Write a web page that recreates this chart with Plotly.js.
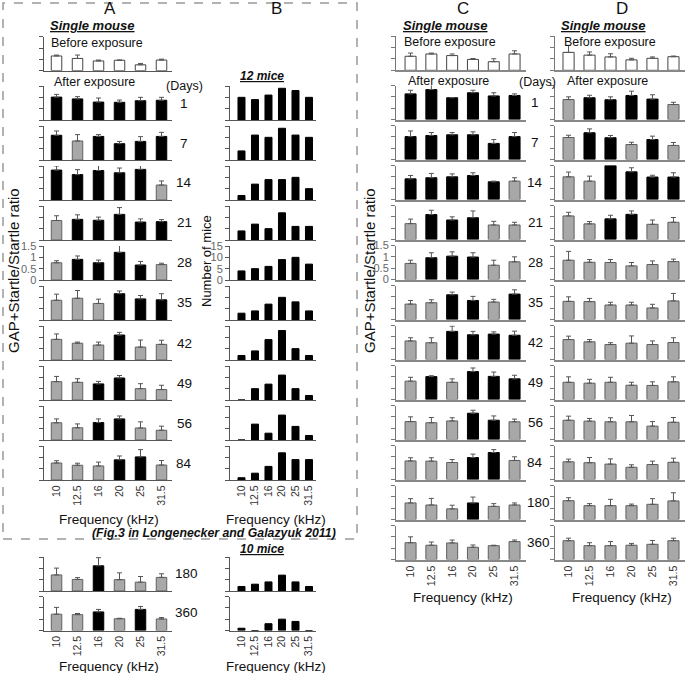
<!DOCTYPE html>
<html><head><meta charset="utf-8">
<script src="https://cdn.plot.ly/plotly-3.0.1.min.js"></script>
<style>html,body{margin:0;padding:0;background:#fff}#chart{width:685px;height:673px}</style>
</head><body><div id="chart"></div>
<script>
const freqs = ['10','12.5','16','20','25','31.5'];
const daysMain = ['1','7','14','21','28','35','42','49','56','84'];
const daysLate = ['180','360'];

// Column A (single mouse): bar means, error-bar tips, shade codes (W white, B black, G gray)
const aBeforeMean = [0.65,0.54,0.43,0.46,0.26,0.47];
const aBeforeTop  = [0.69,0.69,0.47,0.47,0.32,0.51];
const aMean = [
  [1.01,0.93,0.79,0.78,0.85,0.87],
  [1.09,0.84,1.04,0.72,0.82,1.04],
  [1.32,1.12,1.30,1.20,1.35,0.66],
  [0.86,0.91,0.87,1.13,0.79,0.81],
  [0.76,0.91,0.76,1.22,0.66,0.68],
  [0.87,0.96,0.73,1.16,0.93,0.89],
  [0.91,0.74,0.66,1.10,0.57,0.69],
  [0.81,0.78,0.71,0.97,0.50,0.46],
  [0.76,0.54,0.77,0.93,0.53,0.43],
  [0.75,0.65,0.62,0.89,1.02,0.66],
  [0.71,0.51,1.11,0.50,0.39,0.60],
  [0.72,0.70,0.82,0.52,0.93,0.51]
];
const aTop = [
  [1.13,1.03,0.97,0.88,1.00,1.00],
  [1.28,1.12,1.12,0.82,1.03,1.22],
  [1.50,1.34,1.62,1.41,1.62,0.84],
  [1.07,1.11,1.01,1.43,0.93,0.90],
  [0.85,1.06,0.88,1.53,0.82,0.74],
  [1.14,1.30,0.92,1.28,1.08,1.16],
  [1.15,0.79,0.79,1.22,0.88,0.87],
  [1.04,0.94,0.82,1.08,0.72,0.65],
  [0.93,0.71,0.93,1.06,0.80,0.61],
  [0.85,0.74,0.79,1.06,1.34,0.86],
  [1.01,0.59,1.47,0.80,0.64,0.76],
  [1.02,0.75,0.93,0.54,1.06,0.57]
];
const aShade = ['BBBBBB','BGBBBB','BBBBBG','GBBBBB','GBBBBG','GGGBBB','GGGBGG','GGBBGG','GGBBGG','GGGBBG','GGBGGG','GGBGBG'];

// Column B: number of mice (12 mice, days 1-84) and (10 mice, days 180, 360)
const bCount12 = [
  [10,9,11,14,13,10],
  [4,11,10,14,11,10],
  [2,7,9,9,10,5],
  [4,7,5,12,6,6],
  [4,5,6,9,10,7],
  [3,4,7,10,8,4],
  [2,4,9,13,5,2],
  [0,5,7,11,5,2],
  [0,7,3,11,6,2],
  [1,3,6,12,9,9]
];
const bCount10 = [
  [2,3,4,7,4,2],
  [1,0,3,5,4,0]
];

// Column C (single mouse)
const cBeforeMean = [0.62,0.72,0.65,0.48,0.38,0.72];
const cBeforeTop  = [0.76,0.76,0.72,0.52,0.51,0.86];
const cMean = [
  [1.13,1.32,0.96,1.18,1.04,1.06],
  [1.01,1.06,1.09,1.09,0.71,1.01],
  [0.91,0.96,1.00,1.06,0.78,0.81],
  [0.70,1.10,0.86,0.96,0.64,0.64],
  [0.71,0.96,1.03,0.99,0.63,0.78],
  [0.68,0.74,1.09,0.84,0.77,1.12],
  [0.82,0.74,1.24,1.09,1.12,1.07],
  [0.81,1.01,0.76,1.23,1.02,0.91],
  [0.79,0.74,0.82,1.16,0.85,0.78],
  [0.82,0.81,0.75,0.97,1.19,0.84],
  [0.73,0.64,0.47,0.73,0.58,0.64],
  [0.74,0.63,0.73,0.54,0.61,0.79]
];
const cTop = [
  [1.29,1.59,0.97,1.29,1.18,1.13],
  [1.26,1.19,1.19,1.22,0.88,1.19],
  [1.06,1.15,1.13,1.18,0.81,0.96],
  [0.90,1.29,1.00,1.26,0.80,0.76],
  [0.85,1.18,1.22,1.18,0.85,1.00],
  [0.84,0.87,1.21,1.02,0.89,1.31],
  [0.96,0.96,1.47,1.24,1.22,1.25],
  [0.98,1.05,0.91,1.39,1.21,1.07],
  [1.00,0.97,0.96,1.29,1.04,0.90],
  [0.96,0.96,0.88,1.12,1.32,1.00],
  [0.92,0.93,0.63,0.99,0.70,0.73],
  [1.00,0.77,0.86,0.64,0.63,0.86]
];
const cShade = ['BBBBBB','BBBBBB','BBBBBG','GBBBGG','GBBBGG','GGBBGB','GGBBBB','GBGBBB','GGGBBG','GGGBBG','GGGBGG','GGGGGG'];

// Column D (single mouse)
const dBeforeMean = [0.79,0.67,0.59,0.46,0.53,0.60];
const dBeforeTop  = [1.10,0.81,0.73,0.53,0.59,0.63];
const dMean = [
  [0.88,0.96,0.87,1.06,0.90,0.66],
  [0.97,1.18,0.96,0.66,0.88,0.62],
  [1.00,0.81,1.50,1.22,0.99,0.99],
  [1.04,0.69,0.91,1.11,0.67,0.76],
  [0.85,0.76,0.75,0.60,0.66,0.79],
  [0.80,0.79,0.64,0.64,0.51,0.82],
  [0.88,0.78,0.66,0.72,0.66,0.75],
  [0.76,0.72,0.76,0.63,0.62,0.78],
  [0.85,0.81,0.78,0.78,0.59,0.76],
  [0.78,0.74,0.68,0.54,0.66,0.76],
  [0.83,0.61,0.61,0.61,0.67,0.82],
  [0.83,0.61,0.61,0.63,0.67,0.83]
];
const dTop = [
  [1.00,1.07,1.00,1.25,1.09,0.76],
  [1.07,1.35,1.06,0.76,1.03,0.75],
  [1.21,1.03,1.73,1.40,1.07,1.18],
  [1.20,0.79,1.07,1.26,0.86,0.97],
  [1.24,0.88,0.88,0.75,0.82,0.90],
  [1.00,0.93,0.76,0.76,0.67,1.15],
  [1.03,0.88,0.74,1.04,0.82,0.96],
  [1.00,0.89,0.98,0.76,0.78,1.00],
  [1.03,0.93,0.96,1.06,0.79,0.97],
  [0.90,0.97,0.91,0.65,0.81,0.94],
  [0.96,0.70,0.89,0.68,0.92,1.18],
  [0.94,0.74,0.79,0.71,0.84,0.94]
];
const dShade = ['GBBBBG','GBBGBG','GGBBBB','GGBBGG','GGGGGG','GGGGGG','GGGGGG','GGGGGG','GGGGGG','GGGGGG','GGGGGG','GGGGGG'];

// ---------------- drawing ----------------
const W = 685, H = 673;
const X = p => p / W, Y = p => 1 - p / H;
const FONT = 'Liberation Sans, Arial, sans-serif';
const fillOf = {W:'#ffffff', B:'#000000', G:'#a8a8a8'};
const edgeOf = {W:'#444444', B:'#000000', G:'#606060'};

const traces = [];
const layout = {
  width: W, height: H, margin: {l:0, r:0, t:0, b:0},
  showlegend: false, paper_bgcolor: '#ffffff', plot_bgcolor: 'rgba(0,0,0,0)',
  annotations: [], shapes: [], font: {family: FONT}
};
let n = 0;

function panel(col, base, vals, top, shade, yLabels, xLabels, isCount) {
  n++;
  const xa = 'x' + (n === 1 ? '' : n), ya = 'y' + (n === 1 ? '' : n);
  const h = 34;
  const t = {
    type: 'bar', x: freqs, y: vals, xaxis: xa, yaxis: ya, width: col.bw,
    cliponaxis: false, hoverinfo: 'skip',
    marker: {
      color: shade.split('').map(s => fillOf[s]),
      line: {color: shade.split('').map(s => edgeOf[s]), width: 1}
    }
  };
  if (top) {
    t.error_y = {type: 'data', symmetric: false,
      array: top.map((v, i) => Math.max(0, v - vals[i])),
      arrayminus: vals.map(() => 0),
      color: '#555555', thickness: 1, width: 2.5};
  }
  traces.push(t);
  const kx = 'xaxis' + (n === 1 ? '' : n), ky = 'yaxis' + (n === 1 ? '' : n);
  layout[kx] = {
    domain: [X(col.x0), X(col.x1)], anchor: ya, type: 'category', range: col.xr,
    showline: true, linecolor: col.lc, linewidth: col.lw, ticks: '', showgrid: false,
    zeroline: false, showticklabels: !!xLabels, tickangle: -90,
    tickfont: {size: 10.5, color: '#333', family: FONT}, automargin: false, fixedrange: true
  };
  layout[ky] = {
    domain: [Y(base), Y(base - h)], anchor: xa,
    range: isCount ? [0, 15] : [0, 1.5],
    tickvals: isCount ? [0, 5, 10, 15] : [0, 0.5, 1, 1.5],
    ticks: 'outside', ticklen: 4, tickwidth: 1, tickcolor: col.tc,
    showline: true, linecolor: col.tc, linewidth: 1, showgrid: false, zeroline: false,
    showticklabels: !!yLabels, tickfont: {size: 11, color: '#666', family: FONT},
    automargin: false, fixedrange: true
  };
}

function ann(text, x, y, size, extra) {
  layout.annotations.push(Object.assign({
    text: text, x: X(x), y: Y(y), xref: 'paper', yref: 'paper',
    showarrow: false, xanchor: 'center', yanchor: 'middle',
    font: {size: size, color: '#111', family: FONT}
  }, extra || {}));
}

const colA = {x0: 43.5, x1: 172, xr: [-0.62, 5.5], bw: 0.5, lc: '#555', lw: 1.2, tc: '#555'};
const colB = {x0: 230, x1: 316, xr: [-0.85, 5.52], bw: 0.52, lc: '#555', lw: 1.2, tc: '#555'};
const colC = {x0: 396, x1: 526, xr: [-0.7, 5.55], bw: 0.53, lc: '#888', lw: 2, tc: '#777'};
const colD = {x0: 554.7, x1: 685, xr: [-0.66, 5.55], bw: 0.53, lc: '#888', lw: 2, tc: '#777'};

// Column A
panel(colA, 70.7, aBeforeMean, aBeforeTop, 'WWWWWW', false, false, false);
for (let k = 0; k < 10; k++) {
  panel(colA, 120 + 40 * k, aMean[k], aTop[k], aShade[k], k === 4, k === 9, false);
  ann(daysMain[k], 184, 120 + 40 * k - 17, 13.5);
}
[591, 630.5].forEach((b, j) => {
  panel(colA, b, aMean[10 + j], aTop[10 + j], aShade[10 + j], false, j === 1, false);
  ann(daysLate[j], 187, b - 18, 13.5);
});

// Column B
for (let k = 0; k < 10; k++) {
  panel(colB, 120 + 40 * k, bCount12[k], null, 'BBBBBB', k === 4, k === 9, true);
}
[591, 630.5].forEach((b, j) => {
  panel(colB, b, bCount10[j], null, 'BBBBBB', false, j === 1, true);
});

// Columns C and D
panel(colC, 70.3, cBeforeMean, cBeforeTop, 'WWWWWW', false, false, false);
panel(colD, 70.3, dBeforeMean, dBeforeTop, 'WWWWWW', false, false, false);
const allDays = daysMain.concat(daysLate);
for (let k = 0; k < 12; k++) {
  const b = 119.5 + 40 * k;
  panel(colC, b, cMean[k], cTop[k], cShade[k], k === 4, k === 11, false);
  panel(colD, b, dMean[k], dTop[k], dShade[k], false, k === 11, false);
  ann(allDays[k], k < 10 ? 535 : 538, b - 17, 13.5);
}

// Text
ann('A', 110, 9, 17); ann('B', 276, 9, 17); ann('C', 463, 9, 17); ann('D', 622, 9, 17);
const sm = '<b><i><u>Single mouse</u></i></b>';
ann(sm, 92, 26, 13); ann(sm, 445, 26, 13); ann(sm, 603, 26, 13);
ann('Before exposure', 97, 43, 12.5); ann('Before exposure', 450, 42, 12.5); ann('Before exposure', 610, 42, 12.5);
ann('After exposure', 94, 81.5, 12.5); ann('After exposure', 448, 81, 12.5); ann('After exposure', 607, 81, 12.5);
ann('(Days)', 184, 86, 12.5); ann('(Days)', 537, 82, 12.5);
ann('<b><i><u>12 mice</u></i></b>', 262, 76, 12);
ann('<b><i><u>10 mice</u></i></b>', 262, 549, 12);
ann('GAP+Startle/Startle ratio', 13, 271, 15, {textangle: -90});
ann('GAP+Startle/Startle ratio', 369, 271, 15, {textangle: -90});
ann('Number of mice', 207, 261, 13, {textangle: -90});
ann('Frequency (kHz)', 109, 519, 13.5); ann('Frequency (kHz)', 276, 519, 13.5);
ann('Frequency (kHz)', 109, 666, 13.5); ann('Frequency (kHz)', 276, 666, 13.5);
ann('Frequency (kHz)', 463, 597, 13.5); ann('Frequency (kHz)', 622, 597, 13.5);
ann('<b><i>(Fig.3 in Longenecker and Galazyuk 2011)</i></b>', 214, 532.5, 12.3);

layout.shapes.push({type: 'rect', xref: 'paper', yref: 'paper',
  x0: X(3), x1: X(357), y0: Y(539), y1: Y(3),
  line: {color: '#999', width: 1.5, dash: 'dash'}});

Plotly.newPlot('chart', traces, layout, {staticPlot: true, displayModeBar: false});
</script>
</body></html>
